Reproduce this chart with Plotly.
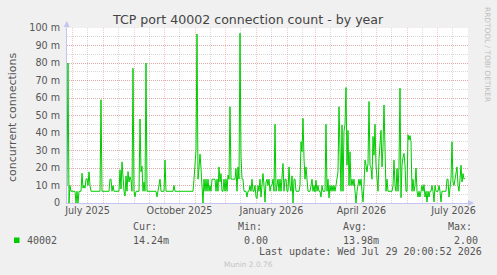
import plotly.graph_objects as go
import pandas as pd

# ---------------- data (daily values, in milli-connections) ----------------
series_start = "2025-06-25 12:00"
conn_milli = [
    10, 80, 0, 10, 6.7, 6.7, 6.7, 6.7, 6.7, 0,
    6.7, 0, 6.7, 6.7, 6.7, 17, 8.5, 10, 8.5, 13.6,
    14, 10, 17.8, 10, 6.7, 6.7, 6.7, 6.7, 6.7, 6.7,
    6.7, 6.7, 6.7, 6.7, 59, 6.7, 6.7, 6.7, 6.7, 6.7,
    6.7, 6.7, 6.7, 13.6, 13.6, 6.7, 10, 6.7, 6.7, 6.7,
    6.7, 6.7, 6.7, 19, 8, 23.5, 12, 6.7, 4, 15.5,
    6.7, 18, 12, 15, 13, 6.7, 77, 6.7, 3.5, 6.7,
    6.7, 6.7, 6.7, 48, 17.8, 21, 6.7, 12, 6.7, 80,
    6.7, 6.7, 6.7, 6.7, 6.7, 6.7, 6.7, 6.7, 6.7, 6.7,
    3.5, 6.7, 10, 13.6, 6.7, 6.7, 6.7, 6.7, 24.5, 6.7,
    6.7, 6.7, 6.7, 6.7, 6.7, 6.7, 6.7, 10, 6.7, 6.7,
    6.7, 6.7, 6.7, 6.7, 6.7, 6.7, 6.7, 6.7, 6.7, 6.7,
    6.7, 6.7, 6.7, 6.7, 6.7, 6.7, 6.7, 13.6, 25, 30,
    96.6, 13.6, 20, 28, 19.7, 6.7, 0, 13.6, 6.7, 13.6,
    6.7, 13.6, 6.7, 10, 6.7, 13.6, 13.6, 13.6, 13.6, 6.7,
    13.6, 6.7, 20.6, 12, 16.8, 6.7, 6.7, 13.6, 6.7, 13.6,
    6.7, 16, 13.6, 55, 13.6, 13.6, 13.6, 13.6, 13.6, 19.7,
    6.7, 20.6, 13.6, 97, 27, 13.6, 13.6, 6.7, 6.7, 6.7,
    3.4, 6.7, 6.7, 10, 6.7, 13.6, 6.7, 6.7, 10, 3.4,
    2.5, 10, 6.7, 13.6, 3.4, 13.6, 16.8, 10, 0.5, 12,
    13.6, 10, 13.6, 6.7, 10, 10, 13.6, 6.7, 45, 6.7,
    10, 13.6, 6.7, 13.6, 6.7, 13.6, 22.6, 6.7, 13.6, 13.6,
    6.7, 6.7, 20.6, 10, 6.7, 15.5, 0, 13.6, 13.6, 6.7,
    6.7, 6.7, 6.7, 10, 35, 29.3, 48.4, 25.4, 13.6, 20.6,
    13.6, 6.7, 6.7, 6.7, 10, 13.6, 6.7, 10, 6.3, 13,
    6.7, 10, 6.7, 6.7, 3.4, 10, 6.7, 6.7, 6.7, 45,
    6.7, 13.6, 2.9, 10, 6.7, 10, 6.7, 10, 6.7, 10,
    13.6, 17.8, 55, 29.3, 6.7, 44.6, 6.7, 41, 45, 66,
    21.6, 41.5, 10, 29.3, 10, 13.6, 10, 13.6, 6.7, 0,
    6.7, 10, 13.6, 10, 13.6, 6.7, 0.6, 10, 24.5, 21.6,
    17.8, 22.6, 58, 21.6, 20, 13.6, 38, 27.3, 45, 21.6,
    10, 6.7, 25.4, 35.9, 41.5, 20.6, 32.1, 56, 29.3, 6.7,
    13.6, 6.7, 6.7, 6.7, 6.7, 6.7, 10, 24.5, 10, 6.7,
    19.7, 6.7, 21.6, 65.6, 3, 21.6, 26, 28.3, 21.6, 6.7,
    6.7, 39, 36, 38.5, 35, 6.7, 13.6, 6.7, 10, 20,
    6.7, 3.4, 6.7, 3.4, 6.7, 10, 6.7, 10.5, 3.4, 6.7,
    0.6, 6.7, 3.4, 6.7, 6.7, 10, 6.7, 0.6, 10, 6.7,
    6.7, 6.7, 10, 6.7, 0.6, 6.7, 6.7, 6.7, 6.7, 6.7,
    13.6, 13.6, 3.4, 10, 13.6, 35, 12, 10, 13.6, 17.8,
    20.6, 10, 6.7, 13.6, 21.6, 12, 16.8, 13.6, 14.2,
]

x_range = ["2025-06-25 12:00", "2026-07-31 12:00"]
month_lines = ["2025-07-01", "2025-08-01", "2025-09-01", "2025-10-01", "2025-11-01",
               "2025-12-01", "2026-01-01", "2026-02-01", "2026-03-01", "2026-04-01",
               "2026-05-01", "2026-06-01", "2026-07-01"]
mid_month_lines = ["2025-07-16", "2025-08-16", "2025-09-16", "2025-10-16", "2025-11-16",
                   "2025-12-16", "2026-01-16", "2026-02-16", "2026-03-16", "2026-04-16",
                   "2026-05-16", "2026-06-16", "2026-07-16"]
label_dates = ["2025-07-16", "2025-10-16", "2026-01-16", "2026-04-16", "2026-07-17"]
label_text = ["July 2025", "October 2025", "January 2026", "April 2026", "July 2026"]
y_ticks = [0, 10, 20, 30, 40, 50, 60, 70, 80, 90, 100]
y_labels = ["0", "10 m", "20 m", "30 m", "40 m", "50 m", "60 m", "70 m", "80 m", "90 m", "100 m"]

series_name = "40002"
stat_heads = ["Cur:", "Min:", "Avg:", "Max:"]
stat_values = ["14.24m", " 0.00 ", "13.98m", " 2.00 "]
title_text = "TCP port 40002 connection count - by year"
ytitle_text = "concurrent connections"
last_update = "Last update: Wed Jul 29 20:00:52 2026"

dates = pd.date_range(series_start, periods=len(conn_milli), freq="D")

# ---------------- layout geometry ----------------
W, H = 497, 275
L, R, T, B = 67, 468, 28, 203
PW, PH = R - L, B - T


def px(x):
    return (x - L) / PW


def py(y):
    return (B - y) / PH


SANS = "DejaVu Sans"
MONO = "DejaVu Sans Mono"
GREEN = "#00CC00"
MAJOR = "rgba(235,60,60,0.30)"
MINOR = "rgba(90,90,90,0.24)"
AXIS = "#C4C4F0"
TXT = "#555555"

fig = go.Figure()
fig.add_trace(go.Scatter(x=dates, y=conn_milli, mode="lines",
                         line=dict(color=GREEN, width=1), showlegend=False,
                         hoverinfo="skip"))
fig.add_trace(go.Scatter(x=label_dates, y=[None] * len(label_dates), xaxis="x2",
                         mode="markers", showlegend=False, hoverinfo="skip"))

fig.update_layout(
    width=W, height=H,
    margin=dict(l=L, r=W - R, t=T, b=H - B),
    paper_bgcolor="#F0F0F0", plot_bgcolor="#FFFFFF",
    hovermode=False,
    font=dict(family=SANS, size=10, color=TXT),
    xaxis=dict(type="date", range=x_range, tickvals=month_lines,
               showticklabels=False, ticks="",
               showgrid=True, gridcolor=MAJOR, griddash="1px,1px", gridwidth=1,
               minor=dict(tickvals=mid_month_lines, showgrid=True, gridcolor=MINOR,
                          griddash="1px,1px", gridwidth=1, ticks=""),
               showline=True, linecolor=AXIS, linewidth=1, zeroline=False,
               fixedrange=True),
    xaxis2=dict(type="date", range=x_range, overlaying="x", anchor="y", side="bottom",
                tickvals=label_dates, ticktext=label_text, ticks="",
                showgrid=False, showline=False, zeroline=False,
                tickfont=dict(family=SANS, size=9.6, color=TXT)),
    yaxis=dict(range=[0, 100], tickvals=y_ticks, ticktext=y_labels, ticks="",
               showgrid=True, gridcolor=MAJOR, griddash="1px,1px", gridwidth=1,
               minor=dict(dtick=5, showgrid=True, gridcolor=MINOR,
                          griddash="1px,1px", gridwidth=1, ticks=""),
               showline=True, linecolor=AXIS, linewidth=1, zeroline=False,
               ticklabelstandoff=4,
               tickfont=dict(family=SANS, size=9.6, color=TXT), fixedrange=True),
)

ann = []


def text(x, y, s, size=10, color=TXT, family=SANS, xanchor="center", angle=0):
    ann.append(dict(x=px(x), y=py(y), xref="paper", yref="paper", text=s,
                    showarrow=False, xanchor=xanchor, yanchor="middle",
                    textangle=angle, borderpad=0,
                    font=dict(family=family, size=size, color=color)))


text(247.5, 19, title_text, size=12.6, color="#444444")
text(12, 117, ytitle_text, size=11, angle=-90)
text(488, 54, "RRDTOOL / TOBI OETIKER", size=7.4, color="#BDBDBD", angle=90)

head_x = [131.5, 236.5, 342, 447]
for hx, h, v in zip(head_x, stat_heads, stat_values):
    text(hx, 226.7, h, family=MONO, xanchor="left")
    text(hx, 240, v.replace(" ", "&nbsp;"), family=MONO, xanchor="left")
text(26, 240, series_name, family=MONO, xanchor="left")
text(483, 251.7, last_update, family=MONO, xanchor="right")
text(248, 264, "Munin 2.0.76", size=7.4, color="#C4C4C4")

# axis arrows
ann.append(dict(x=px(L - 0.3), y=py(21), xref="paper", yref="paper", ax=0, ay=8,
                showarrow=True, arrowhead=2, arrowsize=1.2, arrowwidth=1,
                arrowcolor=AXIS, text=""))
ann.append(dict(x=px(474), y=py(B), xref="paper", yref="paper", ax=-8, ay=0,
                showarrow=True, arrowhead=2, arrowsize=1.2, arrowwidth=1,
                arrowcolor=AXIS, text=""))
fig.update_layout(annotations=ann)

# legend colour square
fig.add_shape(type="rect", xref="paper", yref="paper",
              x0=px(14), x1=px(19.5), y0=py(243), y1=py(237.5),
              fillcolor=GREEN, line=dict(width=0))

fig.write_html("out.html", config={"displayModeBar": False, "staticPlot": True})
